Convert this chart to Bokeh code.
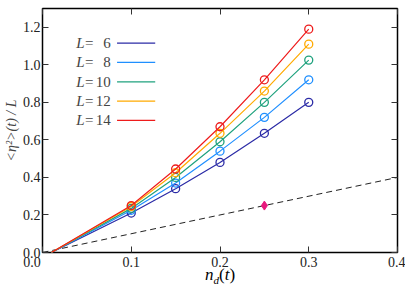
from bokeh.plotting import figure
from bokeh.models import LinearAxis, Label, Range1d, FixedTicker, NumeralTickFormatter, Div
from bokeh.layouts import column
from bokeh.embed import file_html
from bokeh.resources import INLINE

nd = [0.1, 0.15, 0.2, 0.25, 0.3]
L_values = [6, 8, 10, 12, 14]
eta_L6 = [0.21, 0.34, 0.48, 0.635, 0.80]
eta_L8 = [0.225, 0.37, 0.54, 0.72, 0.92]
eta_L10 = [0.235, 0.40, 0.59, 0.80, 1.025]
eta_L12 = [0.245, 0.425, 0.635, 0.86, 1.11]
eta_L14 = [0.25, 0.445, 0.67, 0.92, 1.19]
start_x = 0.01
ref_x = [0.0, 0.4]
ref_y = [0.0, 0.4]
star_x = [0.25]
star_y = [0.25]
colors = ["#2b2ba6", "#1f8fff", "#1fa27e", "#ffaa00", "#ee1c1c"]
series = [eta_L6, eta_L8, eta_L10, eta_L12, eta_L14]

FONT = "Liberation Serif"

p = figure(frame_width=355, frame_height=244, output_backend="svg", toolbar_location=None,
           x_range=Range1d(0, 0.4), y_range=Range1d(0, 1.3),
           min_border_left=41, min_border_right=8, min_border_top=8, min_border_bottom=18)
p.outline_line_color = "black"
p.outline_line_width = 1.5
p.xgrid.visible = False
p.ygrid.visible = False
p.background_fill_color = "white"

def style_axis(ax, ticks, labels=True):
    ax.ticker = FixedTicker(ticks=ticks)
    ax.formatter = NumeralTickFormatter(format="0.0")
    ax.major_tick_in = 6
    ax.major_tick_out = 0
    ax.minor_tick_in = 0
    ax.minor_tick_out = 0
    ax.axis_line_color = None
    ax.major_tick_line_color = "#333333"
    ax.major_label_text_font = FONT
    ax.major_label_text_font_size = "14px"
    ax.major_label_text_color = "#222222"
    if not labels:
        ax.major_label_text_alpha = 0
        ax.major_label_text_font_size = "1px"
        ax.major_label_standoff = 0

xt = [0.0, 0.1, 0.2, 0.3, 0.4]
yt = [0.0, 0.2, 0.4, 0.6, 0.8, 1.0, 1.2]
style_axis(p.xaxis[0], xt)
style_axis(p.yaxis[0], yt)
p.xaxis[0].major_label_standoff = 2
p.xaxis[0].major_label_overrides = {0.0: "0.0\u00a0\u00a0\u00a0\u00a0\u00a0\u00a0"}
p.yaxis[0].major_label_standoff = 2
p.yaxis[0].axis_label = "<η²>(t) / L"
p.yaxis[0].axis_label_text_font = FONT
p.yaxis[0].axis_label_text_font_size = "14px"
p.yaxis[0].axis_label_text_font_style = "italic"
p.yaxis[0].axis_label_standoff = 1

top = LinearAxis()
style_axis(top, xt, labels=False)
p.add_layout(top, "above")
right = LinearAxis()
style_axis(right, yt, labels=False)
p.add_layout(right, "right")

# reference dashed line and marker
p.line(ref_x, ref_y, line_color="#222222", line_dash="6 4", line_width=1)
p.scatter(star_x, star_y, marker="diamond", size=9, color="#e8197d")

for c, ys in zip(colors, series):
    p.line([start_x] + nd, [0.0] + ys, line_color=c, line_width=1.2)
    p.scatter(nd, ys, marker="circle", size=8, fill_color=None, line_color=c, line_width=1.3)

# legend (label on the left, line on the right)
rows_y = [1.115, 1.013, 0.909, 0.806, 0.704]
for c, Lv, yy in zip(colors, L_values, rows_y):
    p.add_layout(Label(x=0.038, y=yy, text="L", text_font=FONT, text_font_style="italic",
                       text_font_size="15px", text_baseline="middle", text_align="left"))
    p.add_layout(Label(x=0.048, y=yy, text="=", text_font=FONT,
                       text_font_size="15px", text_baseline="middle", text_align="left"))
    p.add_layout(Label(x=0.077, y=yy, text=str(Lv), text_font=FONT,
                       text_font_size="15px", text_baseline="middle", text_align="right"))
    p.segment(x0=[0.084], y0=[yy], x1=[0.127], y1=[yy], line_color=c, line_width=1.3)

xtitle = Div(text="<i>n</i><sub style='font-size:11px'><i>d</i></sub>(<i>t</i>)",
             height=16, width=60, margin=(-5, 0, 0, 205),
             styles={"font-family": "Liberation Serif", "font-size": "17px", "line-height": "16px"})

layout = column(p, xtitle, spacing=0)
open("out.html", "w").write(file_html(layout, INLINE))
